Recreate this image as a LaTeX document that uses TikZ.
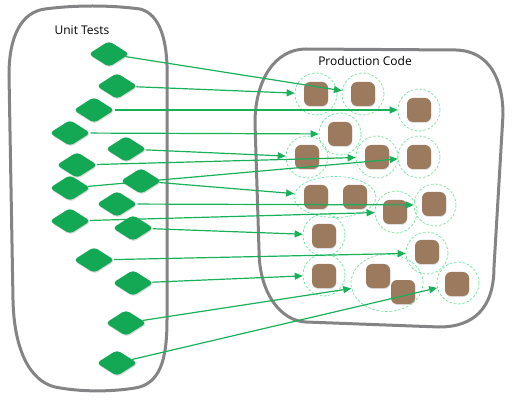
\documentclass[tikz,border=0pt]{standalone}
\usepackage{fontspec}
\setmainfont{Open Sans}
\usetikzlibrary{shapes.geometric,shadows,arrows.meta}
\definecolor{tgreen}{HTML}{13A854}
\definecolor{lgreen}{HTML}{19B05A}
\definecolor{cgreen}{HTML}{6FE39C}
\definecolor{brownsq}{HTML}{9C7A5E}
\definecolor{boxgray}{HTML}{848486}
\pgfdeclarelayer{bg}
\pgfdeclarelayer{lines}
\pgfsetlayers{bg,lines,main}
\begin{document}
\begin{tikzpicture}[x=1pt,y=-1pt,
  test/.style={diamond, fill=tgreen, minimum width=41pt, minimum height=26pt,
    inner sep=0pt, rounded corners=4pt,
    drop shadow={shadow xshift=0.6pt, shadow yshift=-1.2pt, opacity=0.3}},
  unit/.style={rectangle, fill=brownsq, minimum size=24pt, inner sep=0pt,
    rounded corners=6pt,
    drop shadow={shadow xshift=0.4pt, shadow yshift=-1pt, opacity=0.25}},
  ring/.style={circle, draw=cgreen, line width=0.7pt, dash pattern=on 2.5pt off 1.8pt,
    minimum size=42pt, inner sep=0pt},
  oval/.style={ellipse, draw=cgreen, line width=0.7pt, dash pattern=on 2.5pt off 1.8pt,
    inner sep=0pt},
  container/.style={draw=boxgray, line width=3pt},
  covers/.style={draw=lgreen, line width=1.2pt, -{Triangle[length=8pt,width=7pt]}},
  lbl/.style={font=\fontsize{12}{14}\selectfont, text=black}
]
\useasboundingbox (0,0) rectangle (512,401);

\begin{pgfonlayer}{bg}
% containers
\draw[container] (45,9) .. controls (75,5) and (110,5) .. (140,9)
  .. controls (160,14) and (166,40) .. (167,65) -- (167,320)
  .. controls (167,360) and (160,384) .. (135,388)
  .. controls (110,392) and (80,392) .. (55,387)
  .. controls (30,381) and (14,350) .. (13,300) -- (9,75)
  .. controls (9,35) and (22,12) .. (45,9) -- cycle;
\draw[container] (306,49) -- (456,50) .. controls (490,51) and (503,80) .. (503,115)
  -- (494,267) .. controls (494,308) and (474,327) .. (439,327)
  -- (306,322) .. controls (280,321) and (259,292) .. (259,250)
  -- (255,123) .. controls (255,80) and (275,49) .. (306,49) -- cycle;
% production units
\node[unit] (s1) at (316,94) {};
\node[unit] (s2) at (363,94) {};
\node[unit] (s3) at (419,110) {};
\node[unit] (s4) at (340,134) {};
\node[unit] (s5) at (307,157) {};
\node[unit] (s6) at (377,157) {};
\node[unit] (s7) at (419,157) {};
\node[unit] (s8) at (316,197) {};
\node[unit] (s9) at (355,197) {};
\node[unit] (s10) at (395,212) {};
\node[unit] (s11) at (434,204) {};
\node[unit] (s12) at (324,236) {};
\node[unit] (s13) at (427,252) {};
\node[unit] (s14) at (324,276) {};
\node[unit] (s15) at (378,276) {};
\node[unit] (s16) at (403,292) {};
\node[unit] (s17) at (457,284) {};
% coverage rings
\node[ring] (c1) at (316,94) {};
\node[ring] (c2) at (363,94) {};
\node[ring] (c3) at (419,110) {};
\node[ring] (c4) at (340,134) {};
\node[ring] (c5) at (307,157) {};
\node[ring] (c6) at (377,157) {};
\node[ring] (c7) at (419,157) {};
\node[oval, minimum width=82pt, minimum height=41pt] (e89) at (335,197) {};
\node[ring] (c10) at (396,212) {};
\node[ring] (c11) at (435,205) {};
\node[ring] (c12) at (324,235) {};
\node[ring] (c13) at (427,253) {};
\node[ring] (c14) at (324,275) {};
\node[oval, minimum width=72pt, minimum height=57pt] (e1516) at (387,283) {};
\node[ring] (c17) at (458,283) {};
\end{pgfonlayer}

% labels
\node[lbl] (utl) at (82,30) {Unit Tests};
\node[lbl] (pcl) at (365,61) {Production Code};

% tests
\node[test] (d1) at (109,54) {};
\node[test] (d2) at (117,86) {};
\node[test] (d3) at (94,110) {};
\node[test] (d4) at (70,133) {};
\node[test] (d5) at (126,149) {};
\node[test] (d6) at (77,165) {};
\node[test] (d7) at (70,188) {};
\node[test] (d8) at (141,181) {};
\node[test] (d9) at (117,204) {};
\node[test] (d10) at (70,221) {};
\node[test] (d11) at (133,228) {};
\node[test] (d12) at (94,260) {};
\node[test] (d13) at (133,283) {};
\node[test] (d14) at (126,323) {};
\node[test] (d15) at (117,363) {};

\begin{pgfonlayer}{lines}
\draw[covers] (d1) -- (c2);
\draw[covers] (d2) -- (c1);
\draw[covers] (d3) -- (c3);
\draw[covers] (d4) -- (c4);
\draw[covers] (d5) -- (c5);
\draw[covers] (d6) -- (c6);
\draw[covers] (d7) -- (c7);
\draw[covers] (d8) -- (e89);
\draw[covers] (d9) -- (c11);
\draw[covers] (d10) -- (c10);
\draw[covers] (d11) -- (c12);
\draw[covers] (d12) -- (c13);
\draw[covers] (d13) -- (c14);
\draw[covers] (d14) -- (e1516);
\draw[covers] (d15) -- (c17);
\end{pgfonlayer}
\end{tikzpicture}
\end{document}
